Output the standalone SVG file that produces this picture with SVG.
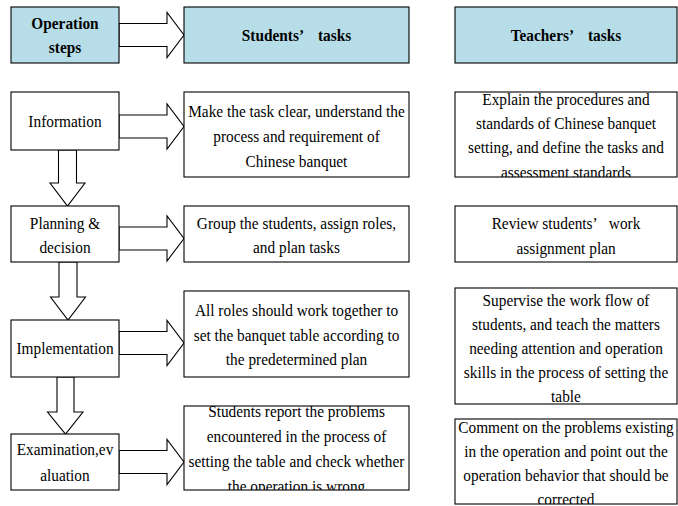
<svg xmlns="http://www.w3.org/2000/svg" width="678" height="506" viewBox="0 0 678 506">
  <style>
    .box { fill: #ffffff; stroke: #000000; stroke-width: 1.1; }
    .head { fill: #b7dde8; stroke: #000000; stroke-width: 1.1; }
    .arrow { fill: #ffffff; stroke: #000000; stroke-width: 1.1; stroke-linejoin: miter; }
    text { font-family: "Liberation Serif", "Times New Roman", serif; font-size: 16.5px; fill: #000000; text-anchor: middle; }
    .b { font-weight: bold; }
  </style>
  <defs>
    <clipPath id="clip-s1"><rect x="184" y="92" width="225" height="85"/></clipPath>
    <clipPath id="clip-s4"><rect x="184" y="406" width="225" height="84"/></clipPath>
    <clipPath id="clip-t1"><rect x="455" y="92" width="222" height="85"/></clipPath>
    <clipPath id="clip-t3"><rect x="455" y="288" width="222" height="116"/></clipPath>
    <clipPath id="clip-t4"><rect x="455" y="419" width="222" height="85"/></clipPath>
  </defs>

  <rect width="678" height="506" fill="#ffffff"/>

  <!-- connectors: block arrows -->
  <g id="connectors">
    <polygon class="arrow" points="119,23.5 167,23.5 167,12.5 184,35 167,57.5 167,46.5 119,46.5"/>
    <polygon class="arrow" points="119,115 167,115 167,104 184,126.5 167,149 167,138 119,138"/>
    <polygon class="arrow" points="119,227 167,227 167,216 184,238.5 167,261 167,250 119,250"/>
    <polygon class="arrow" points="119,331.5 167,331.5 167,320.5 184,343 167,365.5 167,354.5 119,354.5"/>
    <polygon class="arrow" points="119,450.5 167,450.5 167,439.5 184,462 167,484.5 167,473.5 119,473.5"/>
    <polygon class="arrow" points="58.5,150 76.5,150 76.5,183 85,183 67.5,206 50,183 58.5,183"/>
    <polygon class="arrow" points="59,262 77,262 77,297 85.5,297 68,320 50.5,297 59,297"/>
    <polygon class="arrow" points="57,377 74,377 74,412 83,412 65.5,434 47.5,412 57,412"/>
  </g>

  <!-- header row -->
  <g id="hdr-steps">
    <rect class="head" x="11" y="7" width="108" height="56"/>
    <g transform="translate(65 0) scale(0.93 1)">
      <text class="b" x="0" y="29">Operation</text>
      <text class="b" x="0" y="53">steps</text>
    </g>
  </g>
  <g id="hdr-students">
    <rect class="head" x="184" y="7" width="225" height="56"/>
    <g transform="translate(296.5 0) scale(0.93 1)">
      <text class="b" x="0" y="41">Students’<tspan dx="15">tasks</tspan></text>
    </g>
  </g>
  <g id="hdr-teachers">
    <rect class="head" x="455" y="7" width="222" height="56"/>
    <g transform="translate(566 0) scale(0.93 1)">
      <text class="b" x="0" y="41">Teachers’<tspan dx="15">tasks</tspan></text>
    </g>
  </g>

  <!-- step 1: information -->
  <g id="step-information">
    <rect class="box" x="11" y="92" width="108" height="58"/>
    <g transform="translate(65 0) scale(0.93 1)">
      <text x="0" y="127">Information</text>
    </g>
  </g>
  <g id="student-information">
    <rect class="box" x="184" y="92" width="225" height="85"/>
    <g clip-path="url(#clip-s1)">
      <g transform="translate(296.5 0) scale(0.93 1)">
        <text x="0" y="117">Make the task clear, understand the</text>
        <text x="0" y="142">process and requirement of</text>
        <text x="0" y="167">Chinese banquet</text>
      </g>
    </g>
  </g>
  <g id="teacher-information">
    <rect class="box" x="455" y="92" width="222" height="85"/>
    <g clip-path="url(#clip-t1)">
      <g transform="translate(566 0) scale(0.93 1)">
        <text x="0" y="105">Explain the procedures and</text>
        <text x="0" y="129">standards of Chinese banquet</text>
        <text x="0" y="153">setting, and define the tasks and</text>
        <text x="0" y="178">assessment standards</text>
      </g>
    </g>
  </g>

  <!-- step 2: planning -->
  <g id="step-planning">
    <rect class="box" x="11" y="206" width="108" height="56"/>
    <g transform="translate(65 0) scale(0.93 1)">
      <text x="0" y="229">Planning &amp;</text>
      <text x="0" y="253">decision</text>
    </g>
  </g>
  <g id="student-planning">
    <rect class="box" x="184" y="206" width="225" height="56"/>
    <g transform="translate(296.5 0) scale(0.93 1)">
      <text x="0" y="229">Group the students, assign roles,</text>
      <text x="0" y="253">and plan tasks</text>
    </g>
  </g>
  <g id="teacher-planning">
    <rect class="box" x="455" y="206" width="222" height="56"/>
    <g transform="translate(566 0) scale(0.93 1)">
      <text x="0" y="229">Review students’<tspan dx="12">work</tspan></text>
      <text x="0" y="254">assignment plan</text>
    </g>
  </g>

  <!-- step 3: implementation -->
  <g id="step-implementation">
    <rect class="box" x="11" y="320" width="108" height="57"/>
    <g transform="translate(65 0) scale(0.93 1)">
      <text x="0" y="354">Implementation</text>
    </g>
  </g>
  <g id="student-implementation">
    <rect class="box" x="184" y="291" width="225" height="86"/>
    <g transform="translate(296.5 0) scale(0.93 1)">
      <text x="0" y="316">All roles should work together to</text>
      <text x="0" y="341">set the banquet table according to</text>
      <text x="0" y="365">the predetermined plan</text>
    </g>
  </g>
  <g id="teacher-implementation">
    <rect class="box" x="455" y="288" width="222" height="116"/>
    <g clip-path="url(#clip-t3)">
      <g transform="translate(566 0) scale(0.93 1)">
        <text x="0" y="306">Supervise the work flow of</text>
        <text x="0" y="330">students, and teach the matters</text>
        <text x="0" y="354">needing attention and operation</text>
        <text x="0" y="378">skills in the process of setting the</text>
        <text x="0" y="402">table</text>
      </g>
    </g>
  </g>

  <!-- step 4: examination -->
  <g id="step-examination">
    <rect class="box" x="11" y="434" width="108" height="56"/>
    <g transform="translate(65 0) scale(0.93 1)">
      <text x="0" y="455">Examination,ev</text>
      <text x="0" y="481">aluation</text>
    </g>
  </g>
  <g id="student-examination">
    <rect class="box" x="184" y="406" width="225" height="84"/>
    <g clip-path="url(#clip-s4)">
      <g transform="translate(296.5 0) scale(0.93 1)">
        <text x="0" y="417">Students report the problems</text>
        <text x="0" y="442">encountered in the process of</text>
        <text x="0" y="467">setting the table and check whether</text>
        <text x="0" y="492">the operation is wrong</text>
      </g>
    </g>
  </g>
  <g id="teacher-examination">
    <rect class="box" x="455" y="419" width="222" height="85"/>
    <g clip-path="url(#clip-t4)">
      <g transform="translate(566 0) scale(0.93 1)">
        <text x="0" y="433">Comment on the problems existing</text>
        <text x="0" y="457">in the operation and point out the</text>
        <text x="0" y="481">operation behavior that should be</text>
        <text x="0" y="505">corrected</text>
      </g>
    </g>
  </g>
</svg>
